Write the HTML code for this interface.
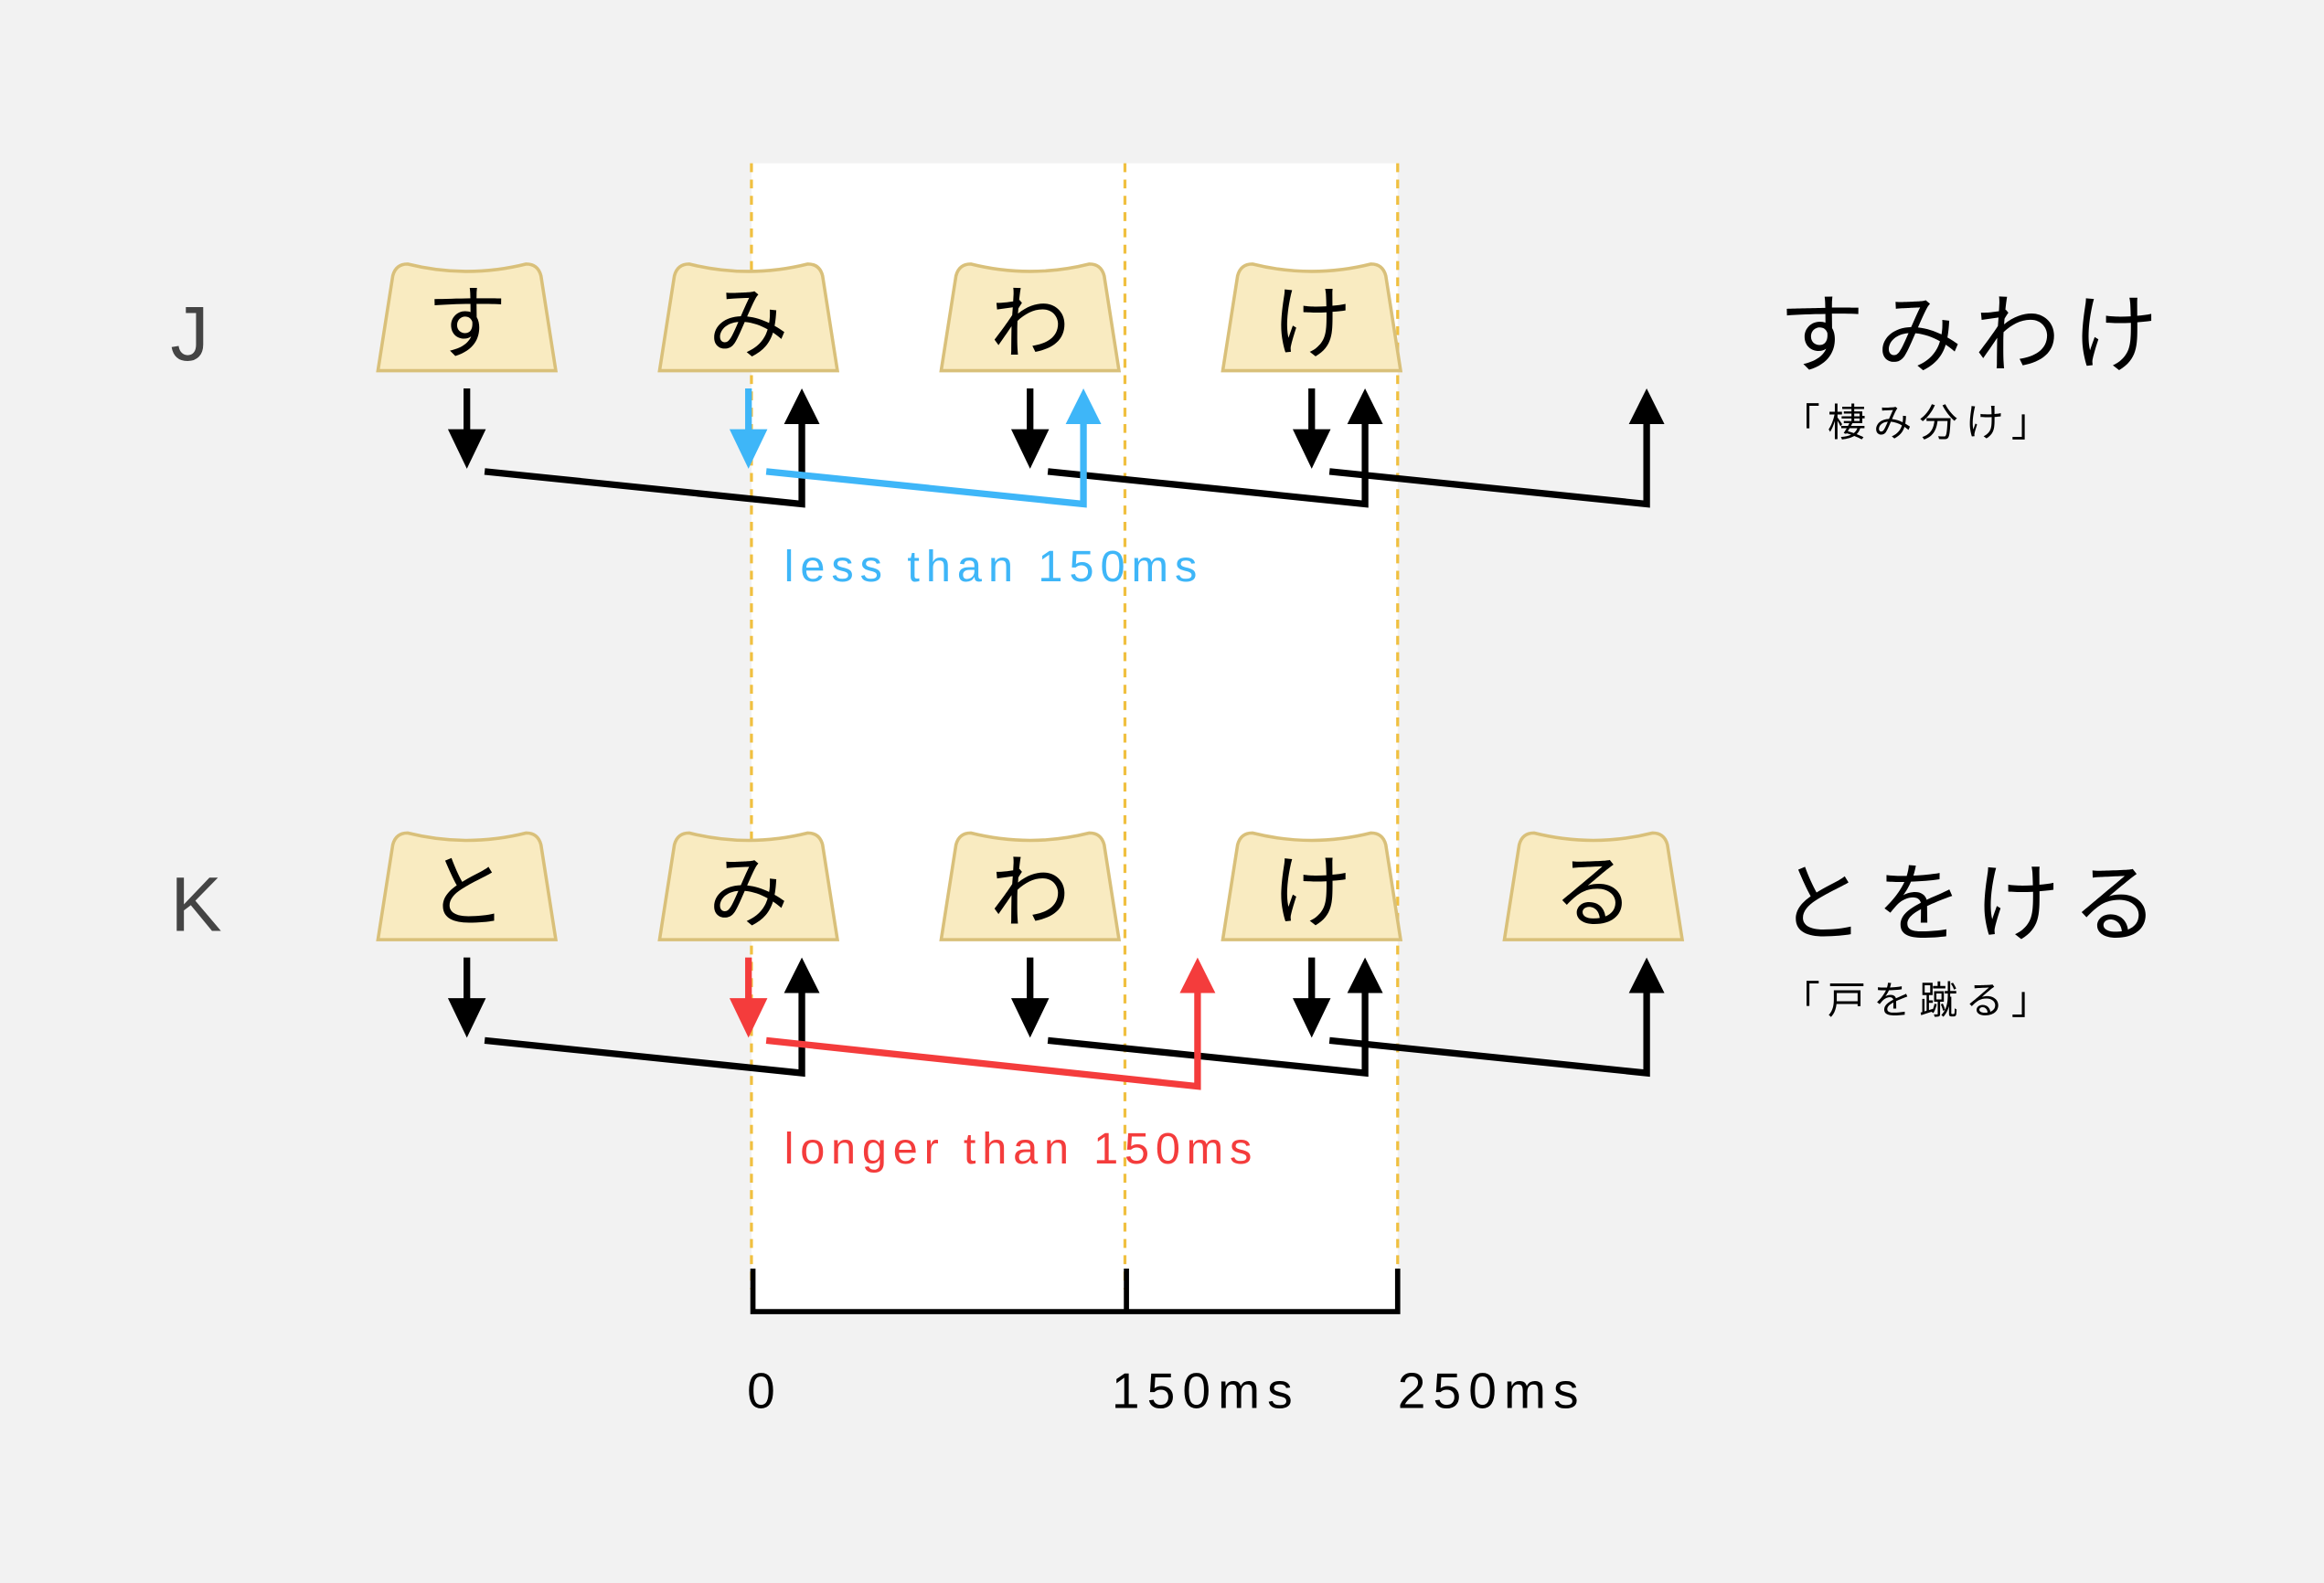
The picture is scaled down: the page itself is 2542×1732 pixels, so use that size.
<!DOCTYPE html>
<html><head><meta charset="utf-8"><style>
html,body{margin:0;padding:0;background:#f2f2f2;}
svg{display:block}
text{font-family:"Liberation Sans","Noto Sans CJK JP",sans-serif;}
</style></head><body>
<svg width="2542" height="1732" viewBox="0 0 1568 1068" xmlns="http://www.w3.org/2000/svg">
<defs>
<g id="key"><path d="M-60,72 L-50,8 Q-48,0 -40,0 Q0,10 40,0 Q48,0 50,8 L60,72 Z" fill="#f9ebc1" stroke="#d9c07a" stroke-width="2.2"/></g>
<g id="dn"><line x1="0" y1="0" x2="0" y2="30" stroke-width="4.5"/><path d="M-12,28 L12,28 L0,53 Z"/></g>
</defs>
<rect width="1568" height="1068" fill="#f2f2f2"/>
<rect x="507" y="110" width="436" height="775" fill="#fff"/>
<g stroke="#f0c040" stroke-width="2" stroke-dasharray="6,5">
<line x1="507" y1="110" x2="507" y2="870"/><line x1="759" y1="110" x2="759" y2="870"/><line x1="943" y1="110" x2="943" y2="870"/>
</g>
<text x="115" y="243" font-size="52" font-weight="300" fill="#444">J</text>
<text x="115" y="628" font-size="52" font-weight="300" fill="#444">K</text>
<g font-size="54" text-anchor="middle" fill="#000">
<use href="#key" x="315" y="178"/><text x="315" y="237">す</text>
<use href="#key" x="505" y="178"/><text x="505" y="237">み</text>
<use href="#key" x="695" y="178"/><text x="695" y="237">わ</text>
<use href="#key" x="885" y="178"/><text x="885" y="237">け</text>
<use href="#key" x="315" y="562"/><text x="315" y="621">と</text>
<use href="#key" x="505" y="562"/><text x="505" y="621">み</text>
<use href="#key" x="695" y="562"/><text x="695" y="621">わ</text>
<use href="#key" x="885" y="562"/><text x="885" y="621">け</text>
<use href="#key" x="1075" y="562"/><text x="1075" y="621">る</text>
</g>
<g fill="#000" stroke="#000">
<use href="#dn" x="315" y="262"/><use href="#dn" x="695" y="262"/><use href="#dn" x="885" y="262"/>
<use href="#dn" x="315" y="646"/><use href="#dn" x="695" y="646"/><use href="#dn" x="885" y="646"/>
</g>
<g fill="#3eb6f8" stroke="#3eb6f8"><use href="#dn" x="505" y="262"/></g>
<g fill="#f43c3c" stroke="#f43c3c"><use href="#dn" x="505" y="646"/></g>
<g fill="none" stroke="#000" stroke-width="4.5">
<polyline points="327,318 541,340 541,282"/>
<polyline points="707,318 921,340 921,282"/>
<polyline points="897,318 1111,340 1111,282"/>
<polyline points="327,702 541,724 541,666"/>
<polyline points="707,702 921,724 921,666"/>
<polyline points="897,702 1111,724 1111,666"/>
</g>
<polyline points="517,318 731,340 731,282" fill="none" stroke="#3eb6f8" stroke-width="4.5"/>
<polyline points="517,702 808,733 808,666" fill="none" stroke="#f43c3c" stroke-width="4.5"/>
<g fill="#000">
<path d="M529,286 L553,286 L541,262Z"/><path d="M909,286 L933,286 L921,262Z"/><path d="M1099,286 L1123,286 L1111,262Z"/>
<path d="M529,670 L553,670 L541,646Z"/><path d="M909,670 L933,670 L921,646Z"/><path d="M1099,670 L1123,670 L1111,646Z"/>
</g>
<path d="M719,286 L743,286 L731,262Z" fill="#3eb6f8"/>
<path d="M796,670 L820,670 L808,646Z" fill="#f43c3c"/>
<text x="529" y="392" font-size="30" letter-spacing="4.3" fill="#3eb6f8">less than 150ms</text>
<text x="529" y="785" font-size="30" letter-spacing="4.2" fill="#f43c3c">longer than 150ms</text>
<g fill="none" stroke="#000" stroke-width="3.5">
<polyline points="508,856 508,885 943,885 943,856"/>
<line x1="760" y1="856" x2="760" y2="885"/>
</g>
<g font-size="34" letter-spacing="5" fill="#000">
<text x="504" y="950">0</text><text x="750" y="950">150ms</text><text x="943" y="950">250ms</text>
</g>
<g fill="#000">
<text x="1200" y="246" font-size="58" letter-spacing="8">すみわけ</text>
<text x="1202" y="294" font-size="26" letter-spacing="5">「棲み分け」</text>
<text x="1200" y="630" font-size="58" letter-spacing="8">とをける</text>
<text x="1202" y="684" font-size="26" letter-spacing="5">「戸を蹴る」</text>
</g>
</svg>
</body></html>
